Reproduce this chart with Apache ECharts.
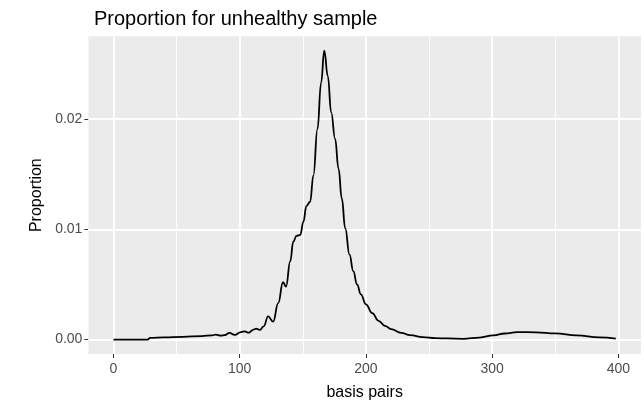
<!DOCTYPE html>
<html>
<head>
<meta charset="utf-8">
<script src="https://cdn.jsdelivr.net/npm/echarts@6/dist/echarts.min.js"></script>
<style>
html,body{margin:0;padding:0;background:#fff;}
#chart{width:644px;height:406px;}
</style>
</head>
<body>
<div id="chart"></div>
<script>
// ---- data ----
const basisPairs = [0, 27, 29, 40, 55, 70, 78, 81, 85, 88, 92, 96, 101, 104, 107, 111, 113, 116, 119, 122.5, 126.5, 130.5, 134.3, 136.7, 140, 142.5, 145, 148, 150.5, 152.8, 155.8, 158.4, 161.6, 164.5, 167, 169.8, 172.5, 175.6, 178.3, 180.9, 183.6, 187, 190, 193, 196, 200, 205, 210, 215, 220, 228, 235, 245, 255, 265, 277, 290, 301, 310, 320, 335, 350, 367, 385, 398];
const proportion = [0, 0, 0.00016, 0.0002, 0.00025, 0.00032, 0.00038, 0.00045, 0.00035, 0.0004, 0.0006, 0.00042, 0.00068, 0.00075, 0.00062, 0.0009, 0.001, 0.00088, 0.0012, 0.0021, 0.00162, 0.0033, 0.0052, 0.0048, 0.0071, 0.0089, 0.0094, 0.0095, 0.0107, 0.0121, 0.0125, 0.0149, 0.0191, 0.0233, 0.0262, 0.0239, 0.0206, 0.0182, 0.0155, 0.0128, 0.0101, 0.0077, 0.0062, 0.0050, 0.0041, 0.0032, 0.0024, 0.0017, 0.00125, 0.00095, 0.0006, 0.0004, 0.00022, 0.00013, 0.0001, 0.00007, 0.00018, 0.00038, 0.00055, 0.00068, 0.00066, 0.00056, 0.00038, 0.0002, 0.00008];
const xTicks = [0, 100, 200, 300, 400];
const xTickLabels = ['0', '100', '200', '300', '400'];
const xMinorGrid = [50, 150, 250, 350];
const yTicks = [0, 0.01, 0.02];
const yTickLabels = ['0.00', '0.01', '0.02'];
const yMinorGrid = [0.005, 0.015, 0.025];
const titleText = 'Proportion for unhealthy sample';
const xName = 'basis pairs';
const yName = 'Proportion';

// ---- chart ----
const FONT = '"Liberation Sans", Arial, sans-serif';
const chart = echarts.init(document.getElementById('chart'), null, {renderer: 'canvas'});

const gridLines = [];
xMinorGrid.forEach(v => gridLines.push({xAxis: v, lineStyle: {color: '#fff', width: 0.9, type: 'solid'}}));
yMinorGrid.forEach(v => gridLines.push({yAxis: v, lineStyle: {color: '#fff', width: 0.9, type: 'solid'}}));
xTicks.forEach(v => gridLines.push({xAxis: v, lineStyle: {color: '#fff', width: 1.8, type: 'solid'}}));
yTicks.forEach(v => gridLines.push({yAxis: v, lineStyle: {color: '#fff', width: 1.8, type: 'solid'}}));

const xMin = -19.9, xMax = 417.9;
const yMin = -0.00131, yMax = 0.02751;

chart.setOption({
  animation: false,
  backgroundColor: '#ffffff',
  title: {
    text: titleText,
    left: 89,
    top: 4,
    textStyle: {fontFamily: FONT, fontSize: 20, fontWeight: 'normal', color: '#000'}
  },
  grid: {
    left: 88.4, right: 3.1, top: 36.3, bottom: 48.4,
    show: true, backgroundColor: '#EBEBEB', borderWidth: 0,
    containLabel: false
  },
  xAxis: {
    type: 'value', min: xMin, max: xMax,
    name: xName, nameLocation: 'middle', nameGap: 31,
    nameTextStyle: {fontFamily: FONT, fontSize: 16, color: '#000'},
    axisLine: {show: true, onZero: false, lineStyle: {color: 'rgba(0,0,0,0)'}},
    axisTick: {show: true, length: 4, customValues: xTicks, lineStyle: {color: '#333333', width: 1}},
    axisLabel: {
      show: true, margin: 8.5, customValues: xTicks,
      formatter: v => xTickLabels[xTicks.indexOf(v)] ?? '',
      fontFamily: FONT, fontSize: 14, color: '#4D4D4D'
    },
    splitLine: {show: false}, minorSplitLine: {show: false}
  },
  yAxis: {
    type: 'value', min: yMin, max: yMax,
    name: yName, nameLocation: 'middle', nameGap: 40, nameRotate: 90,
    nameTextStyle: {fontFamily: FONT, fontSize: 16, color: '#000'},
    axisLine: {show: true, onZero: false, lineStyle: {color: 'rgba(0,0,0,0)'}},
    axisTick: {show: true, length: 4, customValues: yTicks, lineStyle: {color: '#333333', width: 1}},
    axisLabel: {
      show: true, margin: 6, customValues: yTicks,
      formatter: v => { const i = yTicks.findIndex(t => Math.abs(t - v) < 1e-9); return i >= 0 ? yTickLabels[i] : ''; },
      fontFamily: FONT, fontSize: 14, color: '#4D4D4D'
    },
    splitLine: {show: false}, minorSplitLine: {show: false}
  },
  series: [
    {
      name: 'grid', type: 'line', data: [], z: 1, silent: true,
      markLine: {silent: true, symbol: ['none', 'none'], label: {show: false}, animation: false, data: gridLines}
    },
    {
      name: 'Proportion', type: 'line', z: 5,
      data: basisPairs.map((x, i) => [x, proportion[i]]),
      showSymbol: false, symbol: 'none',
      smooth: 0.45, smoothMonotone: 'x',
      lineStyle: {color: '#000000', width: 1.8},
      clip: true
    }
  ]
});
</script>
</body>
</html>
